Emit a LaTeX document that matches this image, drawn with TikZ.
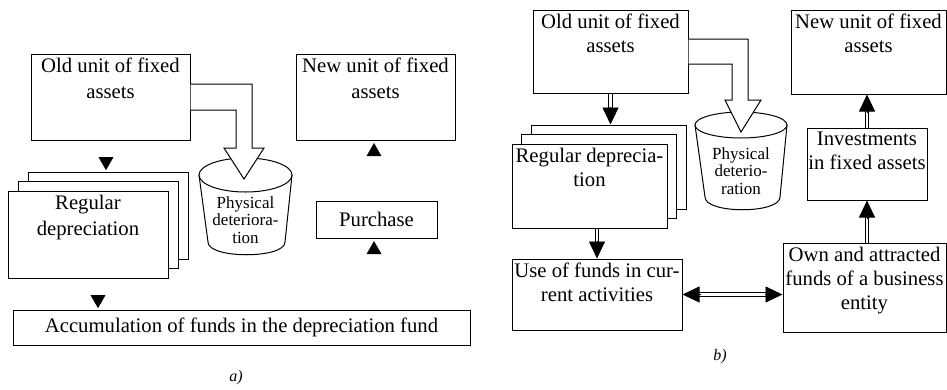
\documentclass[tikz,border=0pt]{standalone}
\usepackage{fontspec}
\setmainfont{Liberation Serif}
\usetikzlibrary{shapes.geometric,arrows.meta}
\tikzset{
  box/.style={draw, fill=white, line width=1pt, inner sep=0pt},
  plain/.style={box, font=\fontsize{20.7}{25}\selectfont},
  txta/.style={align=center, inner sep=4.5pt, font=\fontsize{20.7}{25.5}\selectfont},
  txtb/.style={align=center, inner sep=4.5pt, font=\fontsize{20.7}{24}\selectfont},
  cantxt/.style={align=center, inner sep=0pt, font=\fontsize{17}{17.5}\selectfont},
  tri/.style={regular polygon, regular polygon sides=3, fill=black, inner sep=0pt, minimum size=17.3pt},
  dbl/.style={double, double distance=2.5pt, line width=0.8pt},
  tip/.style={line width=0.8pt, -{Triangle[width=16pt,length=17pt]}},
  figlbl/.style={font=\fontsize{16}{16}\selectfont\itshape}
}

\begin{document}
\begin{tikzpicture}[x=1pt,y=-1pt]
\useasboundingbox (0,0) rectangle (947,389);

% a)
\node[box, minimum width=159pt, minimum height=86pt, label={[txta,anchor=north]north:{Old unit of fixed\\assets}}] (olda) at (110.5,97) {};
\node[box, minimum width=159pt, minimum height=86pt, label={[txta,anchor=north]north:{New unit of fixed\\assets}}] (newa) at (375.5,97) {};
\node[box, minimum width=160pt, minimum height=87pt] (rega3) at (108,215.5) {};
\node[box, minimum width=160pt, minimum height=87pt] (rega2) at (98,225) {};
\node[box, minimum width=160pt, minimum height=87pt, label={[txta,anchor=north]north:{Regular\\depreciation}}] (rega) at (88,234.5) {};
\node[plain, minimum width=121pt, minimum height=37pt] (purch) at (376.5,219.5) {Purchase};
\node[plain, minimum width=457pt, minimum height=35pt] (acc) at (241.5,327.5) {Accumulation of funds in the depreciation fund};

\coordinate (cyla) at (245.5,175);
\draw[box] (199,175) -- (208,242) .. controls (208,259) and (285,259) .. (285,242) -- (292,175);
\draw[box] (cyla) ellipse [x radius=46.5, y radius=17];
\node[cantxt] (cylatxt) at (245.5,220) {Physical\\deteriora-\\tion};
\draw[box] ([yshift=13pt]olda.east) -| (252,148) -- (264,148) -- (244,179) -- (224,148) -- (236,148) |- ([yshift=-13pt]olda.east);

\node[tri, shape border rotate=180] (ta1) at (106,161.5) {};
\node[tri, shape border rotate=180] (ta2) at (98,299.5) {};
\node[tri] (ta3) at (374,151.7) {};
\node[tri] (ta4) at (374,249.7) {};

\node[figlbl] (capa) at (236,378) {a)};

% b)
\node[box, minimum width=155pt, minimum height=83pt, label={[txtb,anchor=north]north:{Old unit of fixed\\assets}}] (oldb) at (610.5,51.5) {};
\node[box, minimum width=155pt, minimum height=84pt, label={[txtb,anchor=north]north:{New unit of fixed\\assets}}] (newb) at (868.5,52) {};
\node[box, minimum width=155pt, minimum height=84pt] (regb3) at (608.5,167) {};
\node[box, minimum width=155pt, minimum height=84pt] (regb2) at (599,176.5) {};
\node[box, minimum width=155pt, minimum height=84pt, label={[txtb,anchor=north]north:{Regular deprecia-\\tion}}] (regb) at (589.5,186) {};
\node[box, minimum width=120pt, minimum height=72pt, label={[txtb,anchor=north]north:{Investments\\in fixed assets}}] (invb) at (867,164) {};
\node[box, minimum width=170pt, minimum height=71pt, label={[txtb,anchor=north]north:{Use of funds in cur-\\rent activities}}] (useb) at (597,294.5) {};
\node[box, minimum width=163pt, minimum height=89pt, label={[txtb,anchor=north]north:{Own and attracted\\funds of a business\\entity}}] (ownb) at (864.5,287.5) {};

\coordinate (cylb) at (741,125);
\draw[box] (695,125) -- (705,197) .. controls (705,214) and (780,214) .. (780,197) -- (787,125);
\draw[box] (cylb) ellipse [x radius=46, y radius=13];
\node[cantxt] (cylbtxt) at (741,171) {Physical\\deterio-\\ration};
\draw[box] ([yshift=12.5pt]oldb.east) -| (748,100) -- (761,100) -- (741,132) -- (725,100) -- (732,100) |- ([yshift=-12.5pt]oldb.east);

% double connectors, heads drawn on top
\draw[dbl, shorten >=15pt] (oldb.south) -- (oldb.south |- regb3.north);
\draw[tip] ([yshift=18pt]oldb.south |- regb3.north) -- (oldb.south |- regb3.north);
\draw[dbl, shorten >=15pt] (regb.south -| useb.north) -- (useb.north);
\draw[tip] ([yshift=18pt]useb.north) -- (useb.north);
\draw[dbl, shorten >=15pt] (invb.south |- ownb.north) -- (invb.south);
\draw[tip] ([yshift=-18pt]invb.south) -- (invb.south);
\draw[dbl, shorten >=15pt] (invb.north) -- (invb.north |- newb.south);
\draw[tip] ([yshift=-18pt]invb.north |- newb.south) -- (invb.north |- newb.south);
\draw[dbl, shorten <=15pt, shorten >=15pt] (useb.east) -- (useb.east -| ownb.west);
\draw[tip] ([xshift=18pt]useb.east) -- (useb.east);
\draw[tip] ([xshift=-18pt]useb.east -| ownb.west) -- (useb.east -| ownb.west);

\node[figlbl] (capb) at (720,357) {b)};
\end{tikzpicture}
\end{document}
